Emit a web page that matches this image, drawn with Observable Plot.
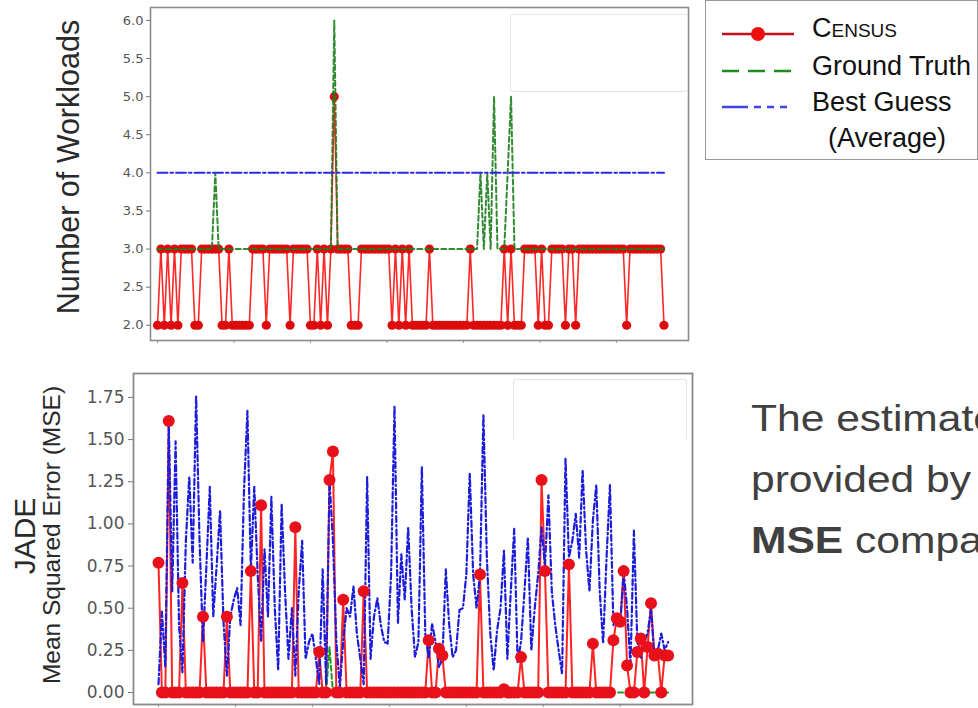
<!DOCTYPE html>
<html><head><meta charset="utf-8">
<script src="https://cdn.jsdelivr.net/npm/d3@7"></script>
<script src="https://cdn.jsdelivr.net/npm/@observablehq/plot@0.6"></script>
<style>
html,body{margin:0;padding:0;background:#fff;}
body{width:978px;height:708px;overflow:hidden;position:relative;font-family:"Liberation Sans",Arial,sans-serif;}
#top{position:absolute;left:0;top:0;}
#bot{position:absolute;left:0;top:366px;}
.rot{position:absolute;transform:translate(-50%,-50%) rotate(-90deg);white-space:nowrap;color:#2a2a2a;}
.ghost{position:absolute;border:1px solid #e4e4e4;border-radius:3px;}
#legend{position:absolute;left:705px;top:0px;width:271px;height:158px;border:1px solid #9a9a9a;background:#fff;}
#legend .lab{position:absolute;left:106px;font-size:27px;color:#111;white-space:nowrap;}
#note{position:absolute;left:751px;top:388px;font-size:37px;color:#404040;white-space:nowrap;line-height:61px;transform:scaleX(1.15);transform-origin:0 0;}
</style></head><body>
<div id="top"></div>
<div id="bot"></div>
<div class="ghost" style="left:510px;top:14px;width:176px;height:76px;"></div>
<div class="ghost" style="left:513px;top:379px;width:172px;height:60px;border-bottom-color:transparent;"></div>
<div class="rot" style="left:68px;top:167px;font-size:30.5px;">Number of Workloads</div>
<div class="rot" style="left:25px;top:536px;font-size:30px;">JADE</div>
<div class="rot" style="left:52px;top:535px;font-size:24.5px;">Mean Squared Error (MSE)</div>
<div id="legend">
  <svg width="100" height="158" style="position:absolute;left:0;top:0">
    <line x1="16" y1="33" x2="88" y2="33" stroke="#c0101a" stroke-width="2.5"/>
    <circle cx="52" cy="33" r="7" fill="#ee0d0d"/>
    <line x1="16" y1="70" x2="88" y2="70" stroke="#1f8a1f" stroke-width="2.5" stroke-dasharray="17,9"/>
    <line x1="16" y1="106" x2="88" y2="106" stroke="#4343e0" stroke-width="2.5" stroke-dasharray="26,6,7,6,7,6,7"/>
  </svg>
  <div class="lab" style="top:12px;font-variant:small-caps;">Census</div>
  <div class="lab" style="top:50px;">Ground Truth</div>
  <div class="lab" style="top:86px;">Best Guess</div>
  <div class="lab" style="top:122px;left:122px;">(Average)</div>
</div>
<div id="note">The estimates<br>provided by CENSUS<br><b>MSE</b> compared</div>
<script>
// ---- Top panel: number of workloads per sample ----
const census = [
 2,3,2,3,2,3,2,3,3,3,
 3,2,2,3,3,3,3,3,3,2,
 2,3,2,2,2,2,2,2,3,3,
 3,3,2,3,3,3,3,3,3,2,
 3,3,3,3,3,2,2,3,2,3,
 2,3,5,3,3,3,3,2,2,2,
 3,3,3,3,3,3,3,3,3,2,
 3,2,3,2,3,2,2,2,2,2,
 3,2,2,2,2,2,2,2,2,2,
 2,2,3,2,2,2,2,2,2,2,
 2,2,3,2,3,2,2,2,3,3,
 3,3,2,3,2,2,3,3,3,3,
 2,3,3,2,3,3,3,3,3,3,
 3,3,3,3,3,3,3,3,2,3,
 3,3,3,3,3,3,3,3,3,2];
const groundTruth = [
 3,3,3,3,3,3,3,3,3,3,
 3,3,3,3,3,3,3,4,3,3,
 3,3,3,3,3,3,3,3,3,3,
 3,3,3,3,3,3,3,3,3,3,
 3,3,3,3,3,3,3,3,3,3,
 3,3,6,3,3,3,3,3,3,3,
 3,3,3,3,3,3,3,3,3,3,
 3,3,3,3,3,3,3,3,3,3,
 3,3,3,3,3,3,3,3,3,3,
 3,3,3,3,3,4,3,4,3,5,
 3,3,3,4,5,3,3,3,3,3,
 3,3,3,3,3,3,3,3,3,3,
 3,3,3,3,3,3,3,3,3,3,
 3,3,3,3,3,3,3,3,3,3,
 3,3,3,3,3,3,3,3,3,3];
const bestGuess = [
 4,4,4,4,4,4,4,4,4,4,
 4,4,4,4,4,4,4,4,4,4,
 4,4,4,4,4,4,4,4,4,4,
 4,4,4,4,4,4,4,4,4,4,
 4,4,4,4,4,4,4,4,4,4,
 4,4,4,4,4,4,4,4,4,4,
 4,4,4,4,4,4,4,4,4,4,
 4,4,4,4,4,4,4,4,4,4,
 4,4,4,4,4,4,4,4,4,4,
 4,4,4,4,4,4,4,4,4,4,
 4,4,4,4,4,4,4,4,4,4,
 4,4,4,4,4,4,4,4,4,4,
 4,4,4,4,4,4,4,4,4,4,
 4,4,4,4,4,4,4,4,4,4,
 4,4,4,4,4,4,4,4,4,4];
const topYTicks = [2.0, 2.5, 3.0, 3.5, 4.0, 4.5, 5.0, 5.5, 6.0];

// ---- Bottom panel: JADE mean squared error ----
const censusMse = [
 0.77,0,0,1.61,0,0,0,0.65,0,0,
 0,0,0,0.45,0,0,0,0,0,0,
 0.45,0,0,0,0,0,0,0.72,0,0,
 1.11,0,0,0,0,0,0,0,0,0,
 0.98,0,0,0,0,0,0,0.24,0,0,
 1.26,1.43,0,0,0.55,0,0,0,0,0,
 0.60,0,0,0,0,0,0,0,0,0,
 0,0,0,0,0,0,0,0,0,0.31,
 0,0,0.26,0.22,0,0,0,0,0,0,
 0,0,0,0,0.70,0,0,0,0,0,
 0,0.02,0,0,0,0,0.21,0,0,0,
 0,0,1.26,0.72,0,0,0,0,0,0,
 0.76,0,0,0,0,0,0,0.29,0,0,
 0,0,0,0.31,0.44,0.42,0.72,0.16,0,0,
 0.24,0.32,0,0.27,0.53,0.22,0.23,0,0.22,0.22];
const groundTruthMse = [
 0,0,0,0,0,0,0,0,0,0,
 0,0,0,0,0,0,0,0,0,0,
 0,0,0,0,0,0,0,0,0,0,
 0,0,0,0,0,0,0,0,0,0,
 0,0,0,0,0,0,0,0,0,0,
 0.27,0,0,0,0,0,0,0,0,0,
 0,0,0,0,0,0,0,0,0,0,
 0,0,0,0,0,0,0,0,0,0,
 0,0,0,0,0,0,0,0,0,0,
 0,0,0,0,0,0,0,0,0,0,
 0,0,0,0,0,0,0,0,0,0,
 0,0,0,0,0,0,0,0,0,0,
 0,0,0,0,0,0,0,0,0,0,
 0,0,0,0,0,0,0,0,0,0,
 0,0,0,0,0,0,0,0,0,0];
const bestGuessMse = [
 0.05,0.48,0.15,1.60,0.60,1.49,0.40,0.12,0.90,1.28,
 0.77,1.76,0.90,0.30,0.75,1.22,0.45,0.75,1.08,0.42,
 0.10,0.45,0.55,0.62,0.40,1.20,1.67,0.72,1.22,0.70,
 0.30,0.85,0.45,1.16,0.50,0.13,1.12,0.60,0.20,0.50,
 0.10,0.60,0.90,0.20,0.30,0.35,0.20,0.05,0.73,0.05,
 1.26,0.90,0.30,0.03,0.30,0.50,0.45,0.63,0.35,0.20,
 0.05,1.28,0.20,0.45,0.56,0.40,0.30,0.29,0.70,1.70,
 0.41,0.82,0.55,0.98,0.50,0.21,0.30,1.34,0.35,0.20,
 0.41,0.30,0.15,0.20,0.73,0.40,0.21,0.25,0.49,0.50,
 0.70,1.30,0.70,0.50,0.70,1.65,0.80,0.35,0.13,0.37,
 0.50,0.84,0.20,0.60,0.97,0.18,0.30,0.60,0.92,0.25,
 0.50,0.70,0.98,0.75,1.17,0.60,0.40,0.25,0.11,1.39,
 0.80,0.90,1.06,0.80,1.32,0.85,0.60,1.02,1.23,0.60,
 0.29,0.80,1.23,0.40,0.45,0.40,0.72,0.50,0.16,0.96,
 0.30,0.20,0.30,0.35,0.50,0.20,0.25,0.35,0.25,0.30];
const botYTicks = [0, 0.25, 0.5, 0.75, 1.0, 1.25, 1.5, 1.75];
const xTickPositions = [0, 22.5, 45, 67.5, 90, 112.5, 135];

const topData = census.map((c, i) => ({i, census: c, gt: groundTruth[i], bg: bestGuess[i]}));
const botData = censusMse.map((c, i) => ({i, census: c, gt: groundTruthMse[i], bg: bestGuessMse[i]}));

const topPlot = Plot.plot({
  width: 700, height: 350,
  marginLeft: 150, marginRight: 12, marginTop: 7, marginBottom: 10,
  x: {domain: [-2.06, 156.2]},
  y: {domain: [1.80, 6.17]},
  style: {fontFamily: "DejaVu Sans", background: "transparent"},
  marks: [
    Plot.axisY({ticks: topYTicks, tickFormat: d => d.toFixed(1), tickSize: 4, tickPadding: 3, label: null, fontSize: 13, color: "#555", stroke: "#777"}),
    Plot.axisX({ticks: xTickPositions, tickFormat: () => "", tickSize: 3, label: null, stroke: "#999"}),
    Plot.line(topData, {x: "i", y: "census", stroke: "#ff2828", strokeWidth: 1.6}),
    Plot.dot(topData, {x: "i", y: "census", r: 4.6, fill: "#dc0c0c"}),
    Plot.line(topData, {x: "i", y: "gt", stroke: "#1e7d1e", strokeWidth: 2, strokeDasharray: "5,3", strokeOpacity: 0.9}),
    Plot.line(topData, {x: "i", y: "bg", stroke: "#2b2be6", strokeWidth: 2, strokeDasharray: "10,3,2.5,3"}),
    Plot.frame({stroke: "#8a8a8a", strokeWidth: 1.6})
  ]
});
document.getElementById("top").appendChild(topPlot);

const botPlot = Plot.plot({
  width: 700, height: 342,
  marginLeft: 133, marginRight: 8, marginTop: 7, marginBottom: 4,
  x: {domain: [-7.31, 156.13]},
  y: {domain: [-0.071, 1.892]},
  style: {fontFamily: "DejaVu Sans", background: "transparent"},
  marks: [
    Plot.axisY({ticks: botYTicks, tickFormat: d => d.toFixed(2), tickSize: 5, tickPadding: 4, label: null, fontSize: 17, color: "#555", stroke: "#777"}),
    Plot.axisX({ticks: xTickPositions, tickFormat: () => "", tickSize: 3, label: null, stroke: "#999"}),
    Plot.line(botData, {x: "i", y: "census", stroke: "#ff2323", strokeWidth: 2}),
    Plot.line(botData, {x: "i", y: "gt", stroke: "#1e9a1e", strokeWidth: 2, strokeDasharray: "5,3"}),
    Plot.line(botData, {x: "i", y: "bg", stroke: "#1c1cdc", strokeWidth: 2.2, strokeDasharray: "6,3,1.5,3"}),
    Plot.dot(botData, {x: "i", y: "census", r: 6, fill: "#e8101a"}),
    Plot.frame({stroke: "#8a8a8a", strokeWidth: 1.8})
  ]
});
document.getElementById("bot").appendChild(botPlot);
</script>
</body></html>
